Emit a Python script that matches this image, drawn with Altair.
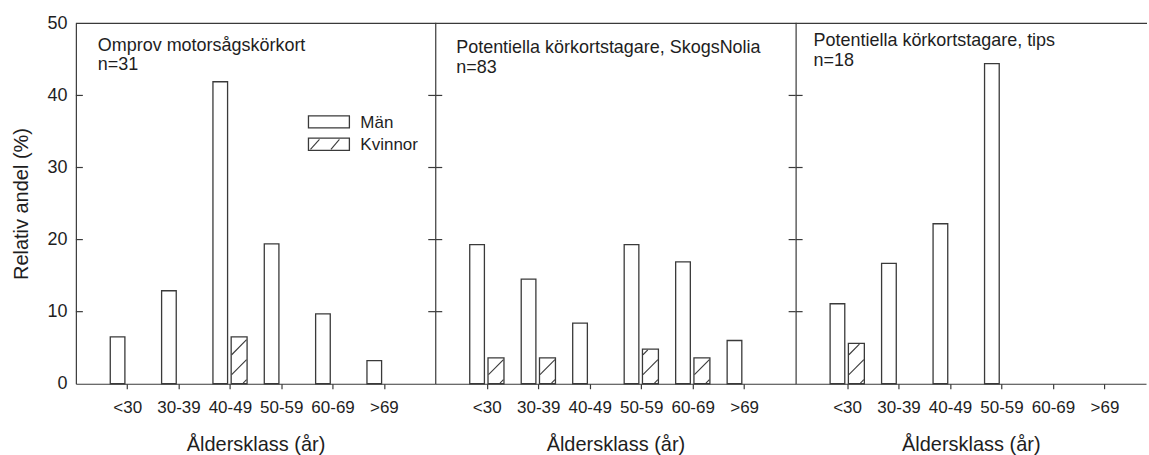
import altair as alt
import pandas as pd

# ---------------- data ----------------
categories = ["<30", "30-39", "40-49", "50-59", "60-69", ">69"]

panel_titles = ["Omprov motorsågskörkort",
                "Potentiella körkortstagare, SkogsNolia",
                "Potentiella körkortstagare, tips"]
panel_n = ["n=31", "n=83", "n=18"]

man_p1 = [6.5, 12.9, 41.9, 19.4, 9.7, 3.2]
kvinnor_p1 = [0, 0, 6.5, 0, 0, 0]
man_p2 = [19.3, 14.5, 8.4, 19.3, 16.9, 6.0]
kvinnor_p2 = [3.6, 3.6, 0, 4.8, 3.6, 0]
man_p3 = [11.1, 16.7, 22.2, 44.4, 0, 0]
kvinnor_p3 = [5.6, 0, 0, 0, 0, 0]

y_ticks = [10, 20, 30, 40]
y_labels = [0, 10, 20, 30, 40, 50]
legend_labels = ["Män", "Kvinnor"]

# ---------------- styling ----------------
INK = "#3a3a3a"
TEXT = "#1e1e1e"
FONT = "Liberation Sans"
H = 361
widths = [360, 361, 351]
x_max = [7, 7, 351 / (361 / 7)]
MAN_L, MAN_R = -0.33, -0.045
KV_L, KV_R = 0.025, 0.335
HATCH_RISE = 2.1
HATCH_STEP = 2.77
HATCH_PHASE = 1.25
title_pos = [(22, 27.5, 47), (21, 29.3, 49.7), (18, 22.7, 42.7)]

label_expr = "[" + ",".join("'%s'" % c for c in categories) + "][datum.value - 1]"
one_row = alt.Data(values=[{"a": 0}])


def hatch_rows(kv):
    rows = []
    for i, v in enumerate(kv):
        if v <= 0:
            continue
        idx = i + 1
        xl, xr = idx + KV_L + 0.01, idx + KV_R - 0.01
        for k in range(-3, 40):
            b = HATCH_PHASE + k * HATCH_STEP
            t0 = max(0.0, (0.1 - b) / HATCH_RISE)
            t1 = min(1.0, (v - 0.1 - b) / HATCH_RISE)
            if t1 > t0:
                rows.append({"hx0": xl + (xr - xl) * t0, "hx1": xl + (xr - xl) * t1,
                             "hy0": b + HATCH_RISE * t0, "hy1": b + HATCH_RISE * t1})
    return rows


def text_layer(txt, x, y, size, align="left", baseline="alphabetic"):
    return alt.Chart(pd.DataFrame({"txt": [txt]})).mark_text(
        align=align, baseline=baseline, font=FONT, fontSize=size, color=TEXT
    ).encode(x=alt.value(x), y=alt.value(y), text="txt:N")


def panel(p, man, kv):
    W = widths[p]
    xscale = alt.Scale(domain=[0, x_max[p]], nice=False, zero=False)
    yscale = alt.Scale(domain=[0, 50], nice=False)
    xaxis = alt.Axis(values=list(range(1, 7)), labelExpr=label_expr, tickSize=5,
                     tickColor=INK, tickWidth=1.2, labelPadding=11, labelFontSize=17,
                     labelFont=FONT, labelColor=TEXT, domainColor=INK, domainWidth=1.2,
                     grid=False, titleFont=FONT,
                     titleFontSize=20, titleFontWeight="normal", titleColor=TEXT,
                     titlePadding=19)
    if p == 0:
        yaxis = alt.Axis(values=y_labels, ticks=False, tickSize=0, labelPadding=9,
                         labelFontSize=18, labelFont=FONT, labelColor=TEXT,
                         domainColor=INK, domainWidth=1.2, grid=False,
                         titleFont=FONT, titleFontSize=20,
                         titleFontWeight="normal", titleColor=TEXT, titlePadding=15)
        ytitle = "Relativ andel (%)"
    else:
        yaxis = alt.Axis(values=y_labels, ticks=False, tickSize=0, labels=False,
                         domainColor=INK, domainWidth=1.2, grid=False)
        ytitle = ""

    def X(f):
        return alt.X(f, type="quantitative", scale=xscale, axis=xaxis, title="Åldersklass (år)")

    def Y(f):
        return alt.Y(f, type="quantitative", scale=yscale, axis=yaxis, title=ytitle)

    rows = []
    for i, c in enumerate(categories):
        if man[i] > 0:
            rows.append({"idx": i + 1, "cat": c, "sex": "Män", "value": man[i]})
        if kv[i] > 0:
            rows.append({"idx": i + 1, "cat": c, "sex": "Kvinnor", "value": kv[i]})
    df = pd.DataFrame(rows)

    bars = alt.Chart(df).transform_calculate(
        x0=f"datum.idx + (datum.sex == 'Män' ? {MAN_L} : {KV_L})",
        x1=f"datum.idx + (datum.sex == 'Män' ? {MAN_R} : {KV_R})",
        base="0",
    ).mark_rect(fill="white", stroke=INK, strokeWidth=1.3).encode(
        x=X("x0:Q"), x2="x1:Q", y=Y("value:Q"), y2="base:Q"
    )

    layers = [bars]

    hr = hatch_rows(kv)
    if hr:
        layers.append(alt.Chart(pd.DataFrame(hr)).mark_rule(
            stroke=INK, strokeWidth=1.1).encode(
            x=X("hx0:Q"), x2="hx1:Q", y=Y("hy0:Q"), y2="hy1:Q"))

    tick_df = pd.DataFrame({"t": y_ticks})
    layers.append(alt.Chart(tick_df).mark_rule(stroke=INK, strokeWidth=1.2).encode(
        x=alt.value(0), x2=alt.value(7), y=Y("t:Q")))
    if p < 2:
        layers.append(alt.Chart(tick_df).mark_rule(stroke=INK, strokeWidth=1.2).encode(
            x=alt.value(W - 7), x2=alt.value(W), y=Y("t:Q")))

    # top frame line
    layers.append(alt.Chart(one_row).mark_rule(stroke=INK, strokeWidth=1.2).encode(
        x=alt.value(0), x2=alt.value(W + 1), y=alt.value(0)))

    tx, ty1, ty2 = title_pos[p]
    layers.append(text_layer(panel_titles[p], tx, ty1, 18))
    layers.append(text_layer(panel_n[p], tx, ty2, 18))

    if p == 0:
        # legend drawn inside the first panel
        layers.append(alt.Chart(one_row).mark_rect(fill="white", stroke=INK, strokeWidth=1.3).encode(
            x=alt.value(233), x2=alt.value(274), y=alt.value(92.7), y2=alt.value(104.7)))
        layers.append(alt.Chart(one_row).mark_rect(fill="white", stroke=INK, strokeWidth=1.3).encode(
            x=alt.value(233), x2=alt.value(274), y=alt.value(115), y2=alt.value(127.3)))
        layers.append(alt.Chart(one_row).mark_rule(stroke=INK, strokeWidth=1.1).encode(
            x=alt.value(235), x2=alt.value(244), y=alt.value(126.3), y2=alt.value(116.3)))
        layers.append(alt.Chart(one_row).mark_rule(stroke=INK, strokeWidth=1.1).encode(
            x=alt.value(255.5), x2=alt.value(264), y=alt.value(126.3), y2=alt.value(116.3)))
        layers.append(text_layer(legend_labels[0], 285, 99.5, 17, baseline="middle"))
        layers.append(text_layer(legend_labels[1], 285, 121.5, 17, baseline="middle"))

    return alt.layer(*layers).properties(width=W, height=H)


chart = alt.hconcat(
    panel(0, man_p1, kvinnor_p1),
    panel(1, man_p2, kvinnor_p2),
    panel(2, man_p3, kvinnor_p3),
    spacing=0, bounds="flush",
).properties(
    padding={"left": 11, "top": 13, "right": 0, "bottom": 5},
    background="white",
).configure_view(stroke="transparent")

chart.save("out.html", embed_options={"renderer": "svg", "actions": False})
